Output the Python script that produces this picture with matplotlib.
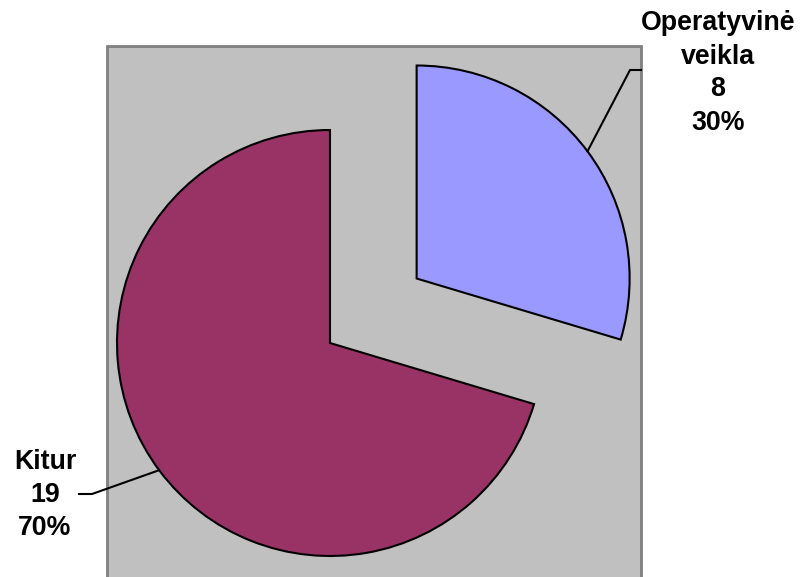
import numpy as np
import matplotlib.pyplot as plt
from matplotlib.patches import Rectangle

# data
labels = ['Operatyvinė\nveikla', 'Kitur']
values = [8, 19]
percents = ['30%', '70%']
colors = ['#9999FF', '#993366']

W, H = 801, 577
fig = plt.figure(figsize=(W / 100, H / 100), dpi=100)
ax = fig.add_axes([0, 0, 1, 1])

# gray plot area
ax.add_patch(Rectangle((107, -5), 534, H - 46 + 5, facecolor='#C0C0C0',
                       edgecolor='#808080', linewidth=2, zorder=0))

center = (330, H - 343)
radius = 213
explode = [108, 0]  # pie offsets in data units
wedges, _ = ax.pie(values, colors=colors, startangle=90, counterclock=False,
                   center=center, radius=radius, explode=explode,
                   wedgeprops=dict(edgecolor='black', linewidth=1.5),
                   frame=True)
ax.set_xlim(0, W)
ax.set_ylim(0, H)
ax.set_aspect('auto')
ax.axis('off')

# label positions (pixels) and leader elbows
label_pos = [(718, H - 73), (45, H - 495)]
elbows = [((630, H - 70), (641, H - 70)), ((92, H - 494), (79, H - 494))]

for w, lab, v, p, (lx, ly), (e1, e2) in zip(wedges, labels, values, percents, label_pos, elbows):
    ang = np.deg2rad((w.theta1 + w.theta2) / 2)
    cx, cy = w.center
    px = cx + w.r * np.cos(ang)
    py = cy + w.r * np.sin(ang)
    ax.plot([px, e1[0], e2[0]], [py, e1[1], e2[1]], color='black', lw=1.5,
            clip_on=False, zorder=5)
    ax.text(lx, ly, f'{lab}\n{v}\n{p}', ha='center', va='center',
            fontsize=19.3, fontweight='bold', family='Liberation Sans',
            linespacing=1.35)

fig.savefig('out.png', dpi=100)
